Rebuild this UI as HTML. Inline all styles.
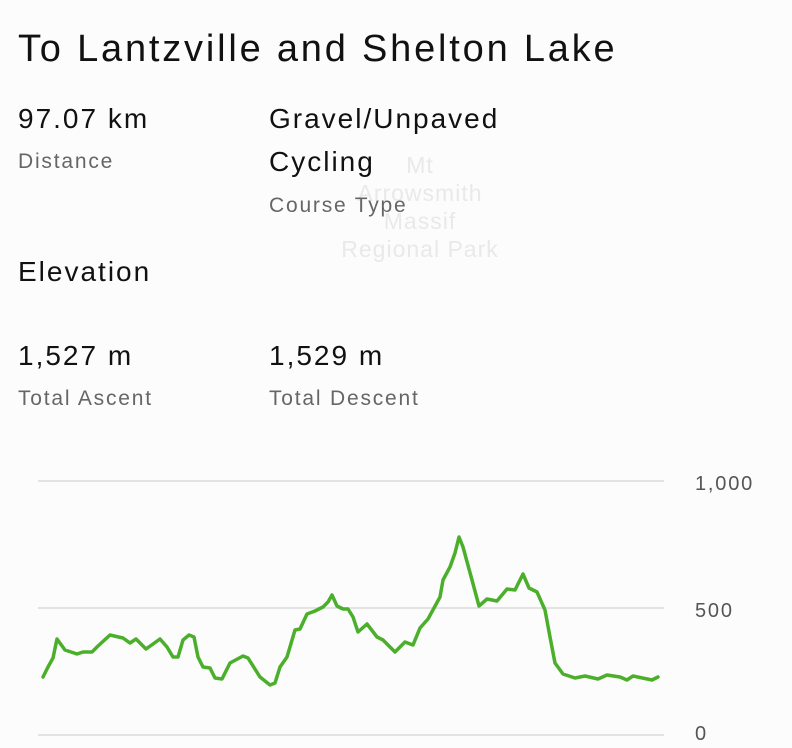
<!DOCTYPE html>
<html><head><style>
body{margin:0;width:792px;height:748px;background:#fbfcfb;font-family:"Liberation Sans",sans-serif;position:relative;overflow:hidden}
.t{position:absolute;white-space:nowrap}
.v{font-size:28px;color:#111;letter-spacing:2px}
.l{font-size:21px;color:#666;letter-spacing:1.8px}
.m{position:absolute;font-size:23px;color:#e8eae8;text-align:center;width:200px;left:320px;letter-spacing:1px}
</style></head><body>
<div class="m" style="top:152px">Mt</div>
<div class="m" style="top:180px">Arrowsmith</div>
<div class="m" style="top:208px">Massif</div>
<div class="m" style="top:236px">Regional Park</div>
<div class="t" style="left:18px;top:28px;font-size:38px;color:#111;letter-spacing:2.8px">To Lantzville and Shelton Lake</div>
<div class="t v" style="left:18px;top:103px">97.07 km</div>
<div class="t l" style="left:18px;top:150px">Distance</div>
<div class="t v" style="left:269px;top:103px">Gravel/Unpaved</div>
<div class="t v" style="left:269px;top:146px">Cycling</div>
<div class="t l" style="left:269px;top:194px">Course Type</div>
<div class="t v" style="left:18px;top:256px">Elevation</div>
<div class="t v" style="left:18px;top:340px">1,527 m</div>
<div class="t l" style="left:18px;top:387px">Total Ascent</div>
<div class="t v" style="left:269px;top:340px">1,529 m</div>
<div class="t l" style="left:269px;top:387px">Total Descent</div>
<svg width="792" height="748" style="position:absolute;left:0;top:0">
<g stroke="#e2e3e2" stroke-width="2"><line x1="38" y1="481" x2="664" y2="481"/><line x1="38" y1="608" x2="664" y2="608"/><line x1="38" y1="735" x2="664" y2="735"/></g>
<g font-family="Liberation Sans" font-size="20" fill="#555" letter-spacing="1.8"><text x="695" y="490">1,000</text><text x="695" y="617">500</text><text x="695" y="740">0</text></g>
<polyline fill="none" stroke="#4caf2c" stroke-width="3.5" stroke-linejoin="round" stroke-linecap="round" points="43,677 48,667 53,658 57,639 65,650 77,654 83,652 92,652 98,646 110,635 123,638 130,643 136,639 146,649 160,639 167,647 173,657 178,657 183,640 189,635 194,637 198,657 203,667 210,668 215,678 222,679 230,663 243,656 248,658 260,677 270,685 275,683 280,667 287,657 295,630 300,629 307,614 315,611 323,607 328,602 332,595 337,606 343,609 348,609 353,617 358,632 367,624 377,637 383,640 395,652 405,642 413,645 420,628 428,619 440,597 443,580 450,567 455,553 459,537 463,547 472,580 479,606 487,599 497,601 507,589 515,590 523,574 529,588 537,592 545,610 550,637 555,663 563,674 575,678 585,676 598,679 607,675 620,677 627,680 633,676 652,680 658,677"/>
</svg>
</body></html>
